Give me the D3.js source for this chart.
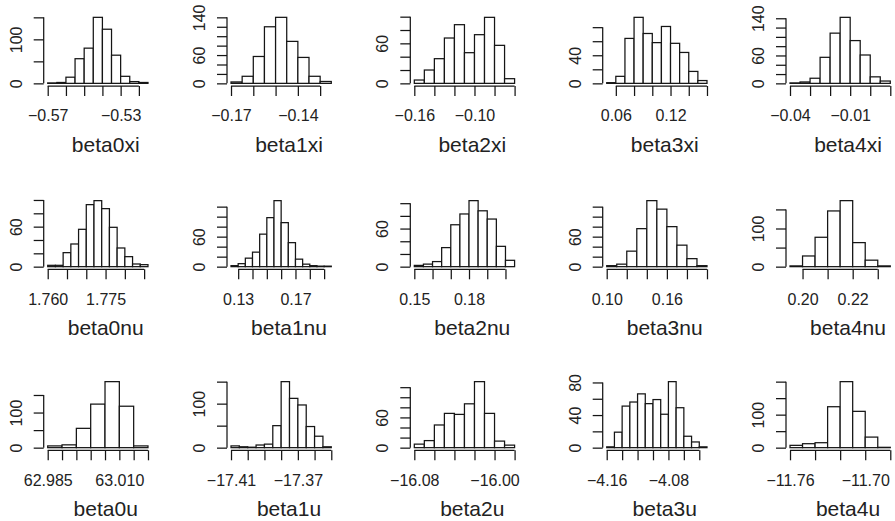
<!DOCTYPE html>
<html>
<head>
<meta charset="utf-8">
<script src="https://cdn.jsdelivr.net/npm/d3@7"></script>
<style>
  body { margin: 0; background: #fff; }
  text { font-family: "Liberation Sans", Arial, Helvetica, sans-serif; fill: #222; }
</style>
</head>
<body>
<script>
// Panel names (x labels)
var names = ["beta0xi", "beta1xi", "beta2xi", "beta3xi", "beta4xi",
             "beta0nu", "beta1nu", "beta2nu", "beta3nu", "beta4nu",
             "beta0u", "beta1u", "beta2u", "beta3u", "beta4u"];

// Histogram breaks: first break and bin width
var binStart = [-0.57, -0.17, -0.16, 0.05, -0.04,
                1.760, 0.125, 0.15, 0.10, 0.195,
                62.985, -17.41, -16.08, -4.16, -11.76];
var binWidth = [0.005, 0.005, 0.01, 0.01, 0.005,
                0.002, 0.005, 0.005, 0.01, 0.005,
                0.005, 0.005, 0.01, 0.01, 0.01];

// Bin counts
var counts = [
    [1, 2, 14, 56, 80, 150, 123, 64, 16, 4, 2],
    [3, 15, 57, 120, 140, 89, 55, 15, 4],
    [5, 20, 37, 68, 88, 46, 73, 99, 57, 7],
    [1, 10, 64, 94, 71, 58, 81, 57, 44, 17, 4],
    [1, 3, 11, 56, 108, 142, 92, 61, 14, 5],
    [2, 2, 21, 34, 56, 93, 99, 87, 59, 28, 15, 4, 3],
    [2, 6, 17, 29, 65, 98, 132, 88, 48, 15, 5, 2, 1, 1],
    [2, 4, 8, 30, 66, 83, 104, 88, 75, 32, 10],
    [2, 5, 31, 76, 132, 115, 80, 43, 16, 2],
    [2, 28, 77, 146, 173, 63, 17, 2],
    [5, 8, 55, 124, 188, 118, 5],
    [4, 2, 1, 6, 8, 50, 150, 112, 97, 48, 26, 2],
    [7, 14, 45, 68, 66, 87, 131, 68, 13, 5],
    [1, 19, 51, 56, 66, 54, 59, 41, 81, 49, 14, 7, 1],
    [7, 12, 15, 124, 200, 110, 32, 1]
];

// x axis ticks and the labels R kept
var xTicks = [
    [-0.57, -0.56, -0.55, -0.54, -0.53, -0.52],
    [-0.17, -0.16, -0.15, -0.14, -0.13],
    [-0.16, -0.14, -0.12, -0.10, -0.08, -0.06],
    [0.06, 0.08, 0.10, 0.12, 0.14, 0.16],
    [-0.04, -0.03, -0.02, -0.01, 0.00, 0.01],
    [1.760, 1.765, 1.770, 1.775, 1.780, 1.785],
    [0.13, 0.14, 0.15, 0.16, 0.17, 0.18, 0.19],
    [0.15, 0.16, 0.17, 0.18, 0.19, 0.20],
    [0.10, 0.12, 0.14, 0.16, 0.18, 0.20],
    [0.20, 0.21, 0.22, 0.23],
    [62.985, 62.990, 62.995, 63.000, 63.005, 63.010, 63.015, 63.020],
    [-17.41, -17.40, -17.39, -17.38, -17.37, -17.36, -17.35],
    [-16.08, -16.06, -16.04, -16.02, -16.00, -15.98],
    [-4.16, -4.14, -4.12, -4.10, -4.08, -4.06, -4.04],
    [-11.76, -11.74, -11.72, -11.70, -11.68]
];
var xLabels = [
    ["−0.57", "−0.53"], ["−0.17", "−0.14"], ["−0.16", "−0.10"], ["0.06", "0.12"], ["−0.04", "−0.01"],
    ["1.760", "1.775"], ["0.13", "0.17"], ["0.15", "0.18"], ["0.10", "0.16"], ["0.20", "0.22"],
    ["62.985", "63.010"], ["−17.41", "−17.37"], ["−16.08", "−16.00"], ["−4.16", "−4.08"], ["−11.76", "−11.70"]
];

// y axis ticks and the labels R kept
var yTicks = [
    [0, 50, 100, 150], [0, 20, 40, 60, 80, 100, 120, 140], [0, 20, 40, 60, 80, 100],
    [0, 20, 40, 60, 80], [0, 20, 40, 60, 80, 100, 120, 140],
    [0, 20, 40, 60, 80, 100], [0, 20, 40, 60, 80, 100, 120], [0, 20, 40, 60, 80, 100],
    [0, 20, 40, 60, 80, 100, 120], [0, 50, 100, 150],
    [0, 50, 100, 150], [0, 50, 100, 150], [0, 20, 40, 60, 80, 100, 120],
    [0, 20, 40, 60, 80], [0, 50, 100, 150, 200]
];
var yLabels = [
    ["0", "100"], ["0", "60", "140"], ["0", "60"], ["0", "40"], ["0", "60", "140"],
    ["0", "60"], ["0", "60"], ["0", "60"], ["0", "60"], ["0", "100"],
    ["0", "100"], ["0", "100"], ["0", "60"], ["0", "40", "80"], ["0", "100"]
];

// Layout
var width = 895, height = 521;
var pw = 108.3, ph = 71.3;
var colLeft = [43.7, 227, 410.3, 602.7, 786];
var rowTop = [14.7, 198, 379];
var ink = "#151515";
var lw = 1.25;

function num(s) { return +s.replace("−", "-"); }
function pick(labels) {
    return function(v) {
        var hit = labels.filter(function(s) { return Math.abs(num(s) - v) < 1e-9; });
        return hit.length ? hit[0] : "";
    };
}

var svg = d3.select("body").append("svg")
    .attr("width", width)
    .attr("height", height)
    .style("background", "#fff");

names.forEach(function(name, i) {
    var r = Math.floor(i / 5), c = i % 5;
    var g = svg.append("g")
        .attr("transform", "translate(" + colLeft[c] + "," + rowTop[r] + ")");

    var cnt = counts[i], bw = binWidth[i], b0 = binStart[i];
    var b1 = b0 + cnt.length * bw;
    var pad = 0.04 * (b1 - b0);
    var ymax = d3.max(cnt);

    var x = d3.scaleLinear().domain([b0 - pad, b1 + pad]).range([0, pw]);
    var y = d3.scaleLinear().domain([-0.04 * ymax, 1.04 * ymax]).range([ph, 0]);

    // bars
    g.selectAll(".bar")
        .data(cnt)
        .enter()
        .append("rect")
        .attr("class", "bar")
        .attr("x", function(d, j) { return x(b0 + j * bw); })
        .attr("width", function(d, j) { return x(b0 + (j + 1) * bw) - x(b0 + j * bw); })
        .attr("y", function(d) { return y(d); })
        .attr("height", function(d) { return y(0) - y(d); })
        .style("fill", "#fff")
        .style("stroke", ink)
        .style("stroke-width", lw);

    // x axis
    var xt = xTicks[i];
    var xa = g.append("g")
        .attr("transform", "translate(0," + ph + ")")
        .call(d3.axisBottom(x).tickValues(xt).tickSize(10).tickPadding(14).tickFormat(pick(xLabels[i])));
    xa.select(".domain").remove();
    xa.append("line")
        .attr("x1", x(xt[0])).attr("x2", x(xt[xt.length - 1]))
        .attr("y1", 0).attr("y2", 0)
        .style("stroke", ink).style("stroke-width", lw);
    xa.selectAll(".tick line").style("stroke", ink).style("stroke-width", lw);
    xa.selectAll("text").attr("font-size", 16).attr("font-family", null).attr("fill", ink);

    // y axis
    var yt = yTicks[i];
    var ya = g.append("g")
        .call(d3.axisLeft(y).tickValues(yt).tickSize(10).tickFormat(pick(yLabels[i])));
    ya.select(".domain").remove();
    ya.append("line")
        .attr("x1", 0).attr("x2", 0)
        .attr("y1", y(yt[0])).attr("y2", y(yt[yt.length - 1]))
        .style("stroke", ink).style("stroke-width", lw);
    ya.selectAll(".tick line").style("stroke", ink).style("stroke-width", lw);
    ya.selectAll("text")
        .attr("transform", "rotate(-90)")
        .attr("x", 0)
        .attr("y", -22)
        .attr("dy", 0)
        .attr("text-anchor", "middle")
        .attr("font-size", 16)
        .attr("font-family", null)
        .attr("fill", ink);
    ya.attr("font-family", null);
    xa.attr("font-family", null);

    // x label
    g.append("text")
        .attr("x", 62)
        .attr("y", ph + 66)
        .attr("text-anchor", "middle")
        .attr("font-size", 21)
        .text(name);
});
</script>
</body>
</html>
